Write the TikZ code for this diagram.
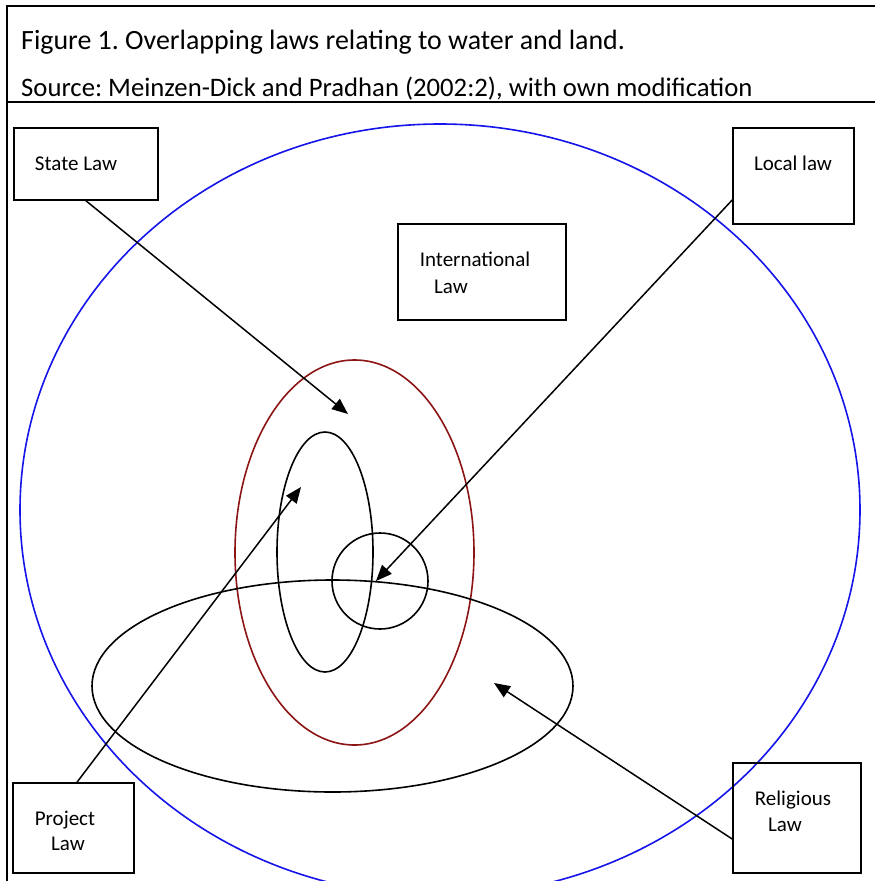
\documentclass[tikz,border=0pt]{standalone}
\usepackage{fontspec}
\setmainfont{Carlito}
\usetikzlibrary{arrows.meta,calc}
\definecolor{lawred}{RGB}{140,20,20}
\definecolor{lawblue}{RGB}{20,20,235}
\frenchspacing
\begin{document}
\begin{tikzpicture}[x=1pt,y=-1pt,
  lawbox/.style={draw=black, line width=1.6pt, inner sep=0pt},
  lbl/.style={font=\fontsize{21}{25}\selectfont, inner sep=0pt, anchor=base},
  ttl/.style={font=\fontsize{27.9}{32}\selectfont, inner sep=0pt, anchor=base west},
  arr/.style={line width=1.5pt, -{Triangle[length=16pt,width=13pt]}},
  ring/.style={line width=1.6pt}
]
\useasboundingbox (0,0) rectangle (875,881);
\clip (0,0) rectangle (875,881);
\fill[white] (0,0) rectangle (875,881);
% frame
\draw[line width=2pt] (7,885) -- (7,6) -- (880,6);
\draw[line width=2pt] (7,101.5) -- (880,101.5);
\node[ttl] (title) at (21,49) {Figure 1. Overlapping laws relating to water and land.};
\node[ttl, font=\fontsize{26.7}{32}\selectfont] (source) at (21,96) {Source: Meinzen-Dick and Pradhan (2002:2), with own modification};
% ellipses
\draw[ring, draw=lawblue] (440,510) ellipse [x radius=420pt, y radius=386pt];
\draw[ring, draw=lawred] (354.5,552.5) ellipse [x radius=119.5pt, y radius=192.5pt];
\draw[ring] (325,552) ellipse [x radius=48pt, y radius=120pt];
\draw[ring] (380,581) circle [radius=48pt];
\draw[ring] (332.5,686) ellipse [x radius=240.5pt, y radius=106pt];
% boxes
\node[lawbox, fill=white, minimum width=144pt, minimum height=72pt] (state) at (86,164) {};
\node[lawbox, fill=white, minimum width=121pt, minimum height=96pt] (local) at (793.5,176) {};
\node[lawbox, fill=white, minimum width=168pt, minimum height=96pt] (intl) at (482,272) {};
\node[lawbox, fill=white, minimum width=121pt, minimum height=90pt] (project) at (73.5,828) {};
\node[lawbox, minimum width=128pt, minimum height=110pt] (religious) at (797,818) {};
% labels
\node[lbl] (tstate) at (76,170) {State Law};
\node[lbl] (tlocal) at (793,170) {Local law};
\node[lbl] (tintl1) at (475,266) {International};
\node[lbl] (tintl2) at (451,293) {Law};
\node[lbl] (tproj1) at (65,825) {Project};
\node[lbl] (tproj2) at (68,850) {Law};
\node[lbl] (trel1) at (793,805) {Religious};
\node[lbl] (trel2) at (785,831) {Law};
% arrow targets
\coordinate (cstate) at (348,414);
\coordinate (clocal) at (376,581);
\coordinate (cproj) at (301,487);
\coordinate (crel) at (494,683);
% arrows
\draw[arr] (state.south) -- (cstate);
\draw[arr] ([yshift=-24pt]local.west) -- (clocal);
\draw[arr] ([xshift=3.5pt]project.north) -- (cproj);
\draw[arr] ([yshift=-21pt]religious.west) -- (crel);
\end{tikzpicture}
\end{document}
